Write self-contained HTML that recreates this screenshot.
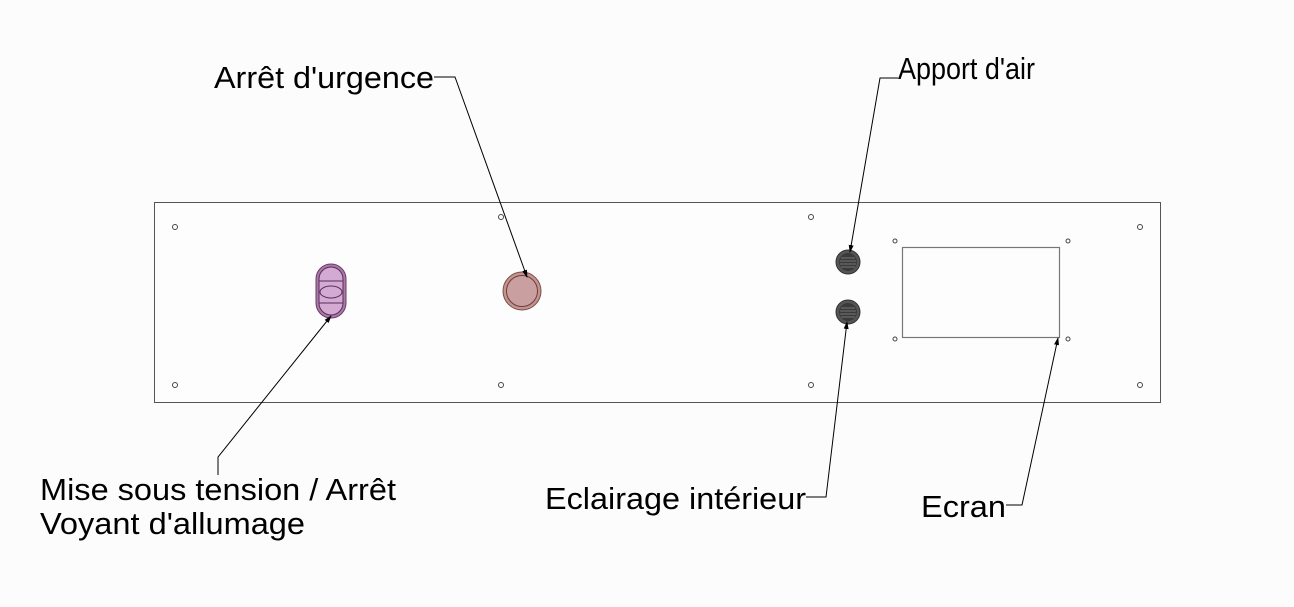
<!DOCTYPE html>
<html><head><meta charset="utf-8"><style>
html,body{margin:0;padding:0;background:#fcfcfc;}
svg{display:block}
text{font-family:"Liberation Sans",Arial,sans-serif;font-size:31px;fill:#000}
</style></head><body>
<svg width="1294" height="607" viewBox="0 0 1294 607" xmlns="http://www.w3.org/2000/svg">
<defs>
<marker id="a" markerWidth="8" markerHeight="8" refX="7" refY="4" orient="auto" markerUnits="userSpaceOnUse">
<path d="M0,1.5 L8,4 L0,6.5 Z" fill="#000"/></marker>
</defs>
<rect x="0" y="0" width="1294" height="607" fill="#fcfcfc"/>
<rect x="154.5" y="202.5" width="1006" height="200" fill="#fdfdfd" stroke="#555" stroke-width="1"/>
<g fill="none" stroke="#444" stroke-width="1">
<circle cx="175" cy="227" r="2.5"/><circle cx="501" cy="217" r="2.5"/><circle cx="811" cy="217" r="2.5"/><circle cx="1140" cy="227" r="2.5"/>
<circle cx="175" cy="385" r="2.5"/><circle cx="501" cy="385" r="2.5"/><circle cx="811" cy="385" r="2.5"/><circle cx="1140" cy="385" r="2.5"/>
<circle cx="895" cy="241" r="2"/><circle cx="1068" cy="241" r="2"/><circle cx="895" cy="339" r="2"/><circle cx="1068" cy="339" r="2"/>
</g>
<rect x="902.5" y="247.5" width="157" height="90" fill="#fdfdfd" stroke="#777" stroke-width="1.2"/>
<rect x="316" y="264" width="30" height="54" rx="15" fill="#a97aa8" stroke="#6a3c6a"/>
<rect x="319" y="267" width="24" height="48" rx="12" fill="#d3aad2" stroke="#5a2d5a"/>
<line x1="319" y1="281" x2="343" y2="281" stroke="#5a2d5a"/><line x1="319" y1="303" x2="343" y2="303" stroke="#5a2d5a"/>
<ellipse cx="331" cy="292" rx="11" ry="6" fill="none" stroke="#5a2d5a"/>
<circle cx="522" cy="291" r="19" fill="#c4928f" stroke="#7a4e4c"/>
<circle cx="522" cy="291" r="15.5" fill="#c9a09f" stroke="#6a3e3c"/>
<g>
<circle cx="848" cy="262" r="12" fill="#555" stroke="#333"/><circle cx="848" cy="262" r="9" fill="#3a3a3a"/>
<g stroke="#777" stroke-width="1"><line x1="841" y1="258" x2="855" y2="258"/><line x1="840" y1="261" x2="856" y2="261"/><line x1="840" y1="264" x2="856" y2="264"/><line x1="841" y1="267" x2="855" y2="267"/></g>
<circle cx="848" cy="312" r="12" fill="#555" stroke="#333"/><circle cx="848" cy="312" r="9" fill="#3a3a3a"/>
<g stroke="#777" stroke-width="1"><line x1="841" y1="308" x2="855" y2="308"/><line x1="840" y1="311" x2="856" y2="311"/><line x1="840" y1="314" x2="856" y2="314"/><line x1="841" y1="317" x2="855" y2="317"/></g>
</g>
<g fill="none" stroke="#000" stroke-width="1">
<polyline points="434,77 455,77 527,277" marker-end="url(#a)"/>
<polyline points="898,78 880,78 850,252" marker-end="url(#a)"/>
<polyline points="218,475 218,457 331,316" marker-end="url(#a)"/>
<polyline points="806,497 826,497 847,322" marker-end="url(#a)"/>
<polyline points="1006,505 1022,505 1058,338" marker-end="url(#a)"/>
</g>
<text x="214" y="88" textLength="220" lengthAdjust="spacingAndGlyphs">Arrêt d'urgence</text>
<text x="898" y="79" textLength="137" lengthAdjust="spacingAndGlyphs">Apport d'air</text>
<text x="40" y="500" textLength="356" lengthAdjust="spacingAndGlyphs">Mise sous tension / Arrêt</text>
<text x="40" y="534" textLength="265" lengthAdjust="spacingAndGlyphs">Voyant d'allumage</text>
<text x="545" y="509" textLength="261" lengthAdjust="spacingAndGlyphs">Eclairage intérieur</text>
<text x="921" y="517" textLength="85" lengthAdjust="spacingAndGlyphs">Ecran</text>
</svg>
</body></html>
